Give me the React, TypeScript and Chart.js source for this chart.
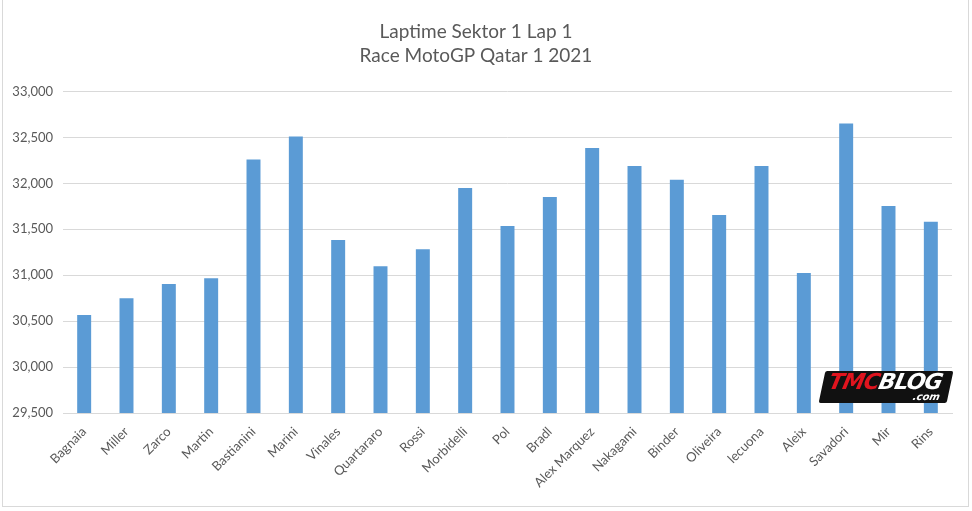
import React, { useEffect, useRef } from 'react';
import { Chart, registerables } from 'chart.js';

Chart.register(...registerables);

const riders = [
  'Bagnaia', 'Miller', 'Zarco', 'Martin', 'Bastianini', 'Marini', 'Vinales',
  'Quartararo', 'Rossi', 'Morbidelli', 'Pol', 'Bradl', 'Alex Marquez', 'Nakagami',
  'Binder', 'Oliveira', 'lecuona', 'Aleix', 'Savadori', 'Mir', 'Rins',
];
const sector1Times = [
  30566, 30749, 30905, 30967, 32259, 32510, 31382,
  31098, 31284, 31950, 31535, 31852, 32386, 32190,
  32040, 31655, 32190, 31025, 32652, 31753, 31582,
];
const titleLines = ['Laptime Sektor 1 Lap 1', 'Race MotoGP Qatar 1 2021'];

const FONT = 'Lato, "Open Sans", sans-serif';

const ChartComponent: React.FC = () => {
  const chartRef = useRef<HTMLCanvasElement | null>(null);

  useEffect(() => {
    document.body.style.margin = '0';
    if (!chartRef.current) return;
    const ctx = chartRef.current.getContext('2d');
    if (!ctx) return;

    const chartInstance = new Chart(ctx, {
      type: 'bar',
      data: {
        labels: riders,
        datasets: [
          {
            label: 'Sektor 1',
            data: sector1Times,
            backgroundColor: '#5b9bd5',
            categoryPercentage: 1,
            barPercentage: 0.33,
          },
        ],
      },
      options: {
        animation: false,
        responsive: false,
        layout: { padding: { left: 0, right: 20, top: 0, bottom: 0 } },
        plugins: {
          legend: { display: false },
          tooltip: { enabled: false },
          title: {
            display: true,
            text: titleLines,
            color: '#595959',
            font: { family: FONT, size: 19, weight: 'normal', lineHeight: 1.25 },
            padding: { top: 20, bottom: 24 },
          },
        },
        scales: {
          x: {
            grid: { display: false },
            border: { color: '#d9d9d9' },
            ticks: {
              color: '#595959',
              font: { family: FONT, size: 13 },
              minRotation: 45,
              maxRotation: 45,
              autoSkip: false,
            },
            afterFit: (scale) => {
              scale.height = 98;
            },
          },
          y: {
            min: 29500,
            max: 33000,
            grid: { color: '#d9d9d9', drawTicks: false },
            border: { display: false },
            ticks: {
              stepSize: 500,
              color: '#595959',
              padding: 10,
              font: { family: FONT, size: 13 },
              callback: (v) => Number(v).toLocaleString('en-US'),
            },
            afterFit: (scale) => {
              scale.width = 63;
            },
          },
        },
      },
    });

    return () => chartInstance.destroy();
  }, []);

  return <canvas ref={chartRef} width={972} height={511} />;
};

const Logo: React.FC = () => (
  <div
    style={{
      position: 'absolute',
      left: 822,
      top: 371,
      width: 128,
      height: 32,
      transform: 'skewX(-12deg)',
      background: '#111',
      borderRadius: 2,
      fontFamily: '"DejaVu Sans", sans-serif',
      fontWeight: 900,
      fontStyle: 'italic',
      lineHeight: '22px',
      fontSize: 22,
      letterSpacing: -1,
      paddingLeft: 6,
      boxSizing: 'border-box',
    }}
  >
    <span style={{ color: '#e0141e' }}>TMC</span>
    <span style={{ color: '#fff' }}>BLOG</span>
    <div
      style={{
        position: 'absolute',
        right: 8,
        bottom: 1,
        fontSize: 10,
        lineHeight: '10px',
        color: '#fff',
        letterSpacing: 0,
      }}
    >
      .com
    </div>
  </div>
);

export default function App() {
  return (
    <div style={{ position: 'relative', width: 972, height: 511, background: '#fff', overflow: 'hidden' }}>
      <ChartComponent />
      <div
        style={{
          position: 'absolute',
          left: 2,
          top: -2,
          width: 967,
          height: 509,
          border: '1px solid #d9d9d9',
          boxSizing: 'border-box',
          pointerEvents: 'none',
        }}
      />
      <Logo />
    </div>
  );
}
